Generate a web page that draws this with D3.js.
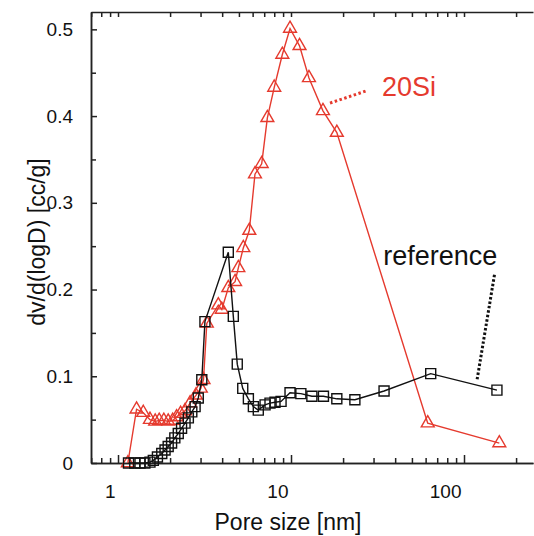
<!DOCTYPE html>
<html>
<head>
<meta charset="utf-8">
<script src="https://cdn.jsdelivr.net/npm/d3@7"></script>
<style>
  body { margin: 0; background: #fff; }
  text { font-family: "Liberation Sans", Arial, sans-serif; }
</style>
</head>
<body>
<div id="chart"></div>
<script>
// pore size distribution
const siX = [1.14, 1.28, 1.40, 1.53, 1.64, 1.73, 1.84, 1.95, 2.07, 2.18, 2.30, 2.44, 2.61, 2.82, 3.01, 3.12,
    3.26, 3.80, 3.98, 4.34, 4.75, 4.96, 5.30, 5.74, 6.19, 6.77, 7.30, 8.00, 8.91, 9.87, 11.2, 12.7, 15.3, 18.4, 61.7, 160];
const siY = [0, 0.062, 0.058, 0.050, 0.048, 0.049, 0.049, 0.048, 0.049, 0.053, 0.057, 0.060, 0.069, 0.078, 0.086, 0.096,
    0.161, 0.182, 0.177, 0.202, 0.209, 0.225, 0.248, 0.268, 0.333, 0.345, 0.398, 0.433, 0.471, 0.501, 0.481, 0.444, 0.406, 0.381, 0.046, 0.023];

const refX = [1.15, 1.25, 1.34, 1.43, 1.53, 1.60, 1.69, 1.79, 1.87, 1.95, 2.04, 2.13, 2.23, 2.33, 2.44, 2.55, 2.67, 2.79, 2.91, 3.05, 3.18,
    4.34, 4.64, 4.89, 5.26, 5.67, 6.06, 6.47, 7.08, 7.56, 8.08, 8.76, 9.87, 11.4, 13.2, 15.4, 18.4, 23.4, 34.5, 64.2, 155];
const refY = [0, 0, 0, 0, 0.001, 0.003, 0.007, 0.011, 0.015, 0.019, 0.023, 0.029, 0.034, 0.040, 0.046, 0.052, 0.059, 0.065, 0.075, 0.096, 0.163,
    0.243, 0.169, 0.114, 0.086, 0.074, 0.065, 0.061, 0.067, 0.069, 0.070, 0.071, 0.081, 0.080, 0.077, 0.077, 0.074, 0.073, 0.083, 0.103, 0.084];

const xMajor = [1, 10, 100];
const xMinor = [0.7, 0.8, 0.9, 2, 3, 4, 5, 6, 7, 8, 9, 20, 30, 40, 50, 60, 70, 80, 90, 200];
const yMajor = [0, 0.1, 0.2, 0.3, 0.4, 0.5];
const yMinor = [0.05, 0.15, 0.25, 0.35, 0.45];

// annotation anchors in data units: [x0, y0, x1, y1, textX, textY]
const siNote = [16.8, 0.415, 27.2, 0.429, 33.6, 0.4235];
const refNote = [150, 0.217, 119, 0.096, 34.1, 0.228];

const red = "#e53a2e";
const ink = "#111";

const width = 534, height = 536;
const svg = d3.select("#chart").append("svg")
    .attr("width", width)
    .attr("height", height);

const x = d3.scaleLog().domain([0.698, 250.5]).range([91, 533]);
const y = d3.scaleLinear().domain([0, 0.52]).range([463, 12]);

const styleAxis = (g) => {
    g.selectAll("path, line").attr("stroke", "#222").attr("stroke-width", 1.5);
    g.selectAll("text").attr("font-family", "Liberation Sans, Arial, sans-serif").attr("fill", "#111");
};

// bottom
svg.append("g").attr("transform", `translate(0,${y(0)})`)
    .call(d3.axisBottom(x).tickValues(xMinor).tickSize(-5).tickSizeOuter(0).tickFormat(""))
    .call(styleAxis);
svg.append("g").attr("transform", `translate(0,${y(0)})`)
    .call(d3.axisBottom(x).tickValues(xMajor).tickSize(-8).tickSizeOuter(0).tickPadding(22).tickFormat(d3.format("d")))
    .call(styleAxis)
    .call(g => g.selectAll("text").attr("font-size", 19).attr("text-anchor", "end").attr("dx", -3));
// top
svg.append("g").attr("transform", `translate(0,${y.range()[1]})`)
    .call(d3.axisTop(x).tickValues(xMinor.concat(xMajor)).tickSize(-5).tickSizeOuter(0).tickFormat(""))
    .call(styleAxis);
// left
svg.append("g").attr("transform", `translate(${x.range()[0]},0)`)
    .call(d3.axisLeft(y).tickValues(yMinor).tickSize(-5).tickSizeOuter(0).tickFormat(""))
    .call(styleAxis);
svg.append("g").attr("transform", `translate(${x.range()[0]},0)`)
    .call(d3.axisLeft(y).tickValues(yMajor).tickSize(-6).tickSizeOuter(0).tickPadding(18)
        .tickFormat(d => d === 0 ? "0" : d3.format(".1f")(d)))
    .call(styleAxis)
    .call(g => g.selectAll("text").attr("font-size", 19));

// axis titles
svg.append("text")
    .attr("x", 288).attr("y", 530)
    .attr("text-anchor", "middle")
    .attr("font-size", 23)
    .attr("fill", "#111")
    .text("Pore size [nm]");
svg.append("text")
    .attr("transform", "translate(45,242) rotate(-90)")
    .attr("text-anchor", "middle")
    .attr("font-size", 23)
    .attr("fill", "#111")
    .text("dv/d(logD) [cc/g]");

const line = d3.line().x(d => x(d[0])).y(d => y(d[1]));

const siData = d3.zip(siX, siY);
const refData = d3.zip(refX, refY);

// 20Si series
svg.append("path").datum(siData)
    .attr("fill", "none").attr("stroke", red).attr("stroke-width", 1.4)
    .attr("d", line);
svg.append("g").selectAll("path").data(siData).join("path")
    .attr("transform", d => `translate(${x(d[0])},${y(d[1])})`)
    .attr("d", d3.symbol(d3.symbolTriangle, 72))
    .attr("fill", "none").attr("stroke", red).attr("stroke-width", 1.4);

// reference series
svg.append("path").datum(refData)
    .attr("fill", "none").attr("stroke", ink).attr("stroke-width", 1.4)
    .attr("d", line);
svg.append("g").selectAll("path").data(refData).join("path")
    .attr("transform", d => `translate(${x(d[0])},${y(d[1])})`)
    .attr("d", d3.symbol(d3.symbolSquare, 100))
    .attr("fill", "none").attr("stroke", ink).attr("stroke-width", 1.4);

// annotations
svg.append("line")
    .attr("x1", x(siNote[0])).attr("y1", y(siNote[1]))
    .attr("x2", x(siNote[2])).attr("y2", y(siNote[3]))
    .attr("stroke", red).attr("stroke-width", 3).attr("stroke-dasharray", "2.5,2.5");
svg.append("text")
    .attr("x", x(siNote[4])).attr("y", y(siNote[5]))
    .attr("font-size", 27).attr("fill", red)
    .text("20Si");

svg.append("line")
    .attr("x1", x(refNote[0])).attr("y1", y(refNote[1]))
    .attr("x2", x(refNote[2])).attr("y2", y(refNote[3]))
    .attr("stroke", ink).attr("stroke-width", 3).attr("stroke-dasharray", "2.5,2");
svg.append("text")
    .attr("x", x(refNote[4])).attr("y", y(refNote[5]))
    .attr("font-size", 27).attr("fill", ink)
    .text("reference");
</script>
</body>
</html>
